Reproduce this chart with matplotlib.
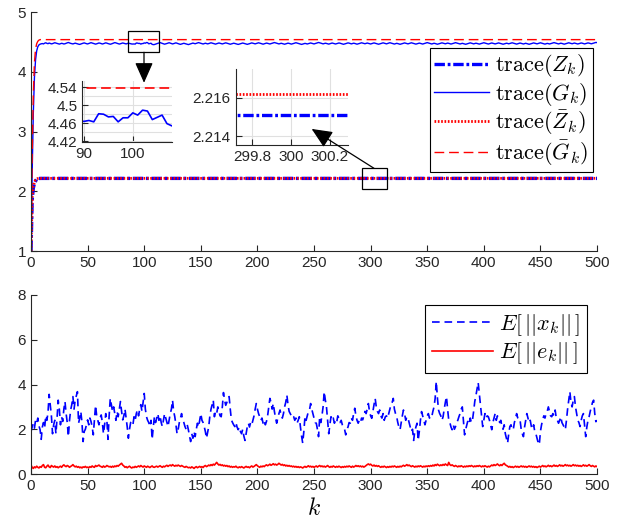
import matplotlib
matplotlib.use("Agg")
import matplotlib.pyplot as plt
import numpy as np
from matplotlib.patches import Rectangle, ConnectionPatch
from matplotlib.ticker import MultipleLocator

plt.rcParams["font.family"] = ["Liberation Sans", "DejaVu Sans"]
plt.rcParams["mathtext.fontset"] = "cm"
plt.rcParams["lines.scale_dashes"] = False

# ---------------- data ----------------
k = np.arange(0, 501)

# transient part, then steady value
z_head = [1.0, 1.85, 2.05, 2.13, 2.17, 2.20, 2.21, 2.214]
z_steady = 2.2151
zbar_head = [1.0, 1.90, 2.08, 2.15, 2.19, 2.205, 2.213, 2.2155]
zbar_steady = 2.2162
gbar_head = [1.0, 2.6, 3.6, 4.15, 4.38, 4.47, 4.51, 4.53]
gbar_steady = 4.538

trace_Z = z_head + [z_steady] * (501 - len(z_head))
trace_Zbar = zbar_head + [zbar_steady] * (501 - len(zbar_head))
trace_Gbar = gbar_head + [gbar_steady] * (501 - len(gbar_head))

trace_G = [
    1.000, 2.300, 3.300, 3.900, 4.200, 4.350, 4.420, 4.450, 4.462, 4.468,
    4.472, 4.466, 4.478, 4.485, 4.476, 4.470, 4.481, 4.474, 4.467, 4.471,
    4.479, 4.486, 4.480, 4.473, 4.468, 4.463, 4.470, 4.476, 4.472, 4.465,
    4.469, 4.477, 4.484, 4.490, 4.482, 4.475, 4.471, 4.466, 4.473, 4.479,
    4.474, 4.468, 4.462, 4.458, 4.465, 4.472, 4.478, 4.483, 4.476, 4.470,
    4.466, 4.473, 4.480, 4.487, 4.481, 4.474, 4.469, 4.463, 4.468, 4.475,
    4.482, 4.478, 4.471, 4.465, 4.470, 4.477, 4.484, 4.479, 4.472, 4.467,
    4.461, 4.466, 4.474, 4.481, 4.488, 4.483, 4.476, 4.470, 4.464, 4.469,
    4.476, 4.482, 4.477, 4.471, 4.466, 4.472, 4.479, 4.474, 4.468, 4.465,
    4.464, 4.466, 4.463, 4.481, 4.480, 4.474, 4.475, 4.463, 4.472, 4.472,
    4.483, 4.478, 4.489, 4.487, 4.468, 4.473, 4.478, 4.459, 4.454, 4.456,
    4.463, 4.470, 4.476, 4.482, 4.488, 4.481, 4.474, 4.468, 4.462, 4.467,
    4.473, 4.480, 4.486, 4.479, 4.473, 4.466, 4.471, 4.478, 4.484, 4.477,
    4.470, 4.464, 4.459, 4.465, 4.471, 4.477, 4.472, 4.466, 4.460, 4.455,
    4.461, 4.468, 4.474, 4.480, 4.475, 4.469, 4.475, 4.482, 4.488, 4.482,
    4.476, 4.470, 4.465, 4.471, 4.478, 4.473, 4.467, 4.472, 4.479, 4.485,
    4.480, 4.474, 4.468, 4.463, 4.469, 4.476, 4.482, 4.477, 4.471, 4.466,
    4.472, 4.478, 4.484, 4.479, 4.473, 4.467, 4.461, 4.466, 4.472, 4.478,
    4.474, 4.468, 4.463, 4.458, 4.463, 4.469, 4.475, 4.481, 4.476, 4.470,
    4.465, 4.459, 4.464, 4.470, 4.477, 4.483, 4.478, 4.472, 4.467, 4.473,
    4.479, 4.485, 4.480, 4.474, 4.468, 4.462, 4.468, 4.474, 4.480, 4.476,
    4.470, 4.465, 4.471, 4.477, 4.483, 4.489, 4.484, 4.478, 4.472, 4.466,
    4.471, 4.477, 4.472, 4.466, 4.461, 4.467, 4.473, 4.479, 4.475, 4.469,
    4.463, 4.468, 4.474, 4.480, 4.486, 4.481, 4.475, 4.469, 4.464, 4.458,
    4.463, 4.469, 4.475, 4.471, 4.465, 4.470, 4.476, 4.482, 4.477, 4.471,
    4.466, 4.472, 4.478, 4.484, 4.490, 4.485, 4.479, 4.473, 4.467, 4.472,
    4.478, 4.474, 4.468, 4.463, 4.469, 4.475, 4.481, 4.476, 4.470, 4.465,
    4.470, 4.476, 4.482, 4.478, 4.472, 4.466, 4.460, 4.465, 4.471, 4.477,
    4.483, 4.479, 4.473, 4.467, 4.472, 4.478, 4.474, 4.468, 4.462, 4.467,
    4.473, 4.479, 4.485, 4.480, 4.474, 4.469, 4.475, 4.481, 4.476, 4.470,
    4.465, 4.471, 4.477, 4.483, 4.478, 4.472, 4.466, 4.461, 4.466, 4.472,
    4.478, 4.484, 4.479, 4.473, 4.467, 4.473, 4.479, 4.486, 4.481, 4.475,
    4.469, 4.464, 4.470, 4.476, 4.472, 4.466, 4.460, 4.465, 4.471, 4.477,
    4.483, 4.478, 4.472, 4.467, 4.473, 4.479, 4.485, 4.480, 4.474, 4.468,
    4.463, 4.468, 4.474, 4.480, 4.475, 4.469, 4.464, 4.470, 4.476, 4.482,
    4.488, 4.482, 4.476, 4.470, 4.465, 4.471, 4.477, 4.473, 4.467, 4.461,
    4.466, 4.472, 4.478, 4.484, 4.479, 4.473, 4.468, 4.474, 4.480, 4.476,
    4.470, 4.464, 4.469, 4.475, 4.481, 4.487, 4.482, 4.476, 4.470, 4.465,
    4.470, 4.476, 4.471, 4.465, 4.460, 4.466, 4.472, 4.478, 4.484, 4.479,
    4.473, 4.467, 4.472, 4.478, 4.474, 4.468, 4.463, 4.469, 4.475, 4.481,
    4.486, 4.481, 4.475, 4.469, 4.464, 4.470, 4.476, 4.482, 4.477, 4.471,
    4.466, 4.471, 4.477, 4.483, 4.478, 4.472, 4.467, 4.461, 4.466, 4.472,
    4.478, 4.474, 4.468, 4.473, 4.479, 4.485, 4.480, 4.474, 4.468, 4.463,
    4.469, 4.475, 4.481, 4.476, 4.470, 4.465, 4.471, 4.477, 4.472, 4.466,
    4.460, 4.465, 4.471, 4.477, 4.483, 4.478, 4.472, 4.467, 4.473, 4.479,
    4.485, 4.480, 4.474, 4.468, 4.463, 4.469, 4.475, 4.471, 4.465, 4.470,
    4.476, 4.482, 4.488, 4.483, 4.477, 4.471, 4.466, 4.472, 4.478, 4.474,
    4.468, 4.462, 4.467, 4.473, 4.479, 4.485, 4.480, 4.474, 4.469, 4.475,
    4.481, 4.476, 4.470, 4.465, 4.470, 4.476, 4.482, 4.478, 4.472, 4.466,
    4.471, 4.477, 4.483, 4.479, 4.473, 4.468, 4.474, 4.480, 4.486, 4.491,
    4.488,
]

E_x = [
    1.90, 2.10, 2.25, 2.05, 2.40, 2.27, 2.50, 2.15, 1.98, 1.55,
    2.10, 2.30, 2.05, 2.60, 2.40, 2.75, 3.56, 3.07, 2.60, 1.80,
    2.20, 2.40, 1.80, 2.50, 3.30, 2.90, 2.20, 2.56, 2.35, 2.90,
    3.24, 2.70, 2.30, 1.67, 2.40, 2.86, 3.10, 3.46, 2.90, 3.30,
    3.50, 3.68, 2.27, 2.50, 2.79, 2.30, 1.45, 1.90, 2.00, 2.20,
    2.42, 2.20, 2.50, 2.35, 2.10, 1.75, 2.40, 3.07, 2.60, 2.40,
    2.20, 2.50, 2.64, 2.30, 1.80, 2.20, 2.70, 2.40, 1.55, 2.60,
    3.38, 3.10, 2.80, 3.00, 2.70, 2.40, 2.80, 2.56, 2.90, 3.24,
    2.80, 2.42, 2.60, 2.90, 2.50, 2.10, 1.60, 2.00, 2.30, 2.34,
    2.20, 2.56, 2.40, 2.70, 2.86, 2.60, 2.90, 3.10, 2.80, 3.20,
    3.60, 2.90, 2.56, 2.40, 2.30, 2.12, 2.40, 1.55, 2.10, 2.56,
    2.30, 2.50, 2.70, 2.40, 2.60, 2.30, 2.12, 2.40, 2.70, 2.50,
    2.30, 2.12, 2.40, 2.70, 2.90, 3.30, 2.80, 2.56, 2.20, 1.80,
    2.00, 2.30, 2.50, 2.70, 2.40, 2.30, 2.12, 2.00, 2.20, 1.98,
    1.70, 1.45, 1.80, 1.60, 1.90, 1.67, 2.00, 2.27, 2.10, 2.40,
    2.70, 2.40, 2.30, 2.12, 1.90, 1.60, 1.85, 2.12, 2.60, 2.90,
    3.10, 3.30, 2.56, 2.80, 2.70, 3.00, 2.80, 2.60, 2.56, 3.00,
    3.64, 3.30, 3.07, 3.20, 3.40, 3.46, 2.90, 2.42, 2.30, 2.20,
    2.12, 2.30, 2.10, 1.98, 2.10, 1.90, 1.80, 2.00, 1.70, 1.50,
    1.80, 2.10, 2.27, 2.10, 2.30, 2.20, 2.40, 2.60, 2.90, 3.15,
    2.90, 2.70, 2.56, 2.40, 2.50, 2.27, 2.40, 2.20, 2.35, 2.60,
    3.00, 3.38, 3.20, 2.90, 3.15, 2.80, 2.50, 2.27, 2.50, 2.70,
    2.86, 2.60, 2.50, 2.70, 3.00, 3.20, 3.53, 3.10, 2.80, 2.70,
    2.60, 2.50, 2.56, 2.40, 2.50, 2.27, 2.40, 2.56, 2.10, 1.70,
    1.38, 1.90, 2.56, 2.40, 2.60, 2.79, 2.86, 3.15, 2.90, 2.70,
    2.50, 2.30, 2.27, 2.00, 1.67, 2.56, 2.30, 2.60, 3.00, 3.68,
    3.30, 3.00, 2.40, 1.80, 2.20, 2.56, 2.40, 2.50, 2.27, 2.40,
    2.30, 2.60, 2.49, 2.30, 2.40, 2.20, 2.12, 2.00, 1.75, 2.00,
    2.10, 2.30, 2.27, 2.50, 2.40, 2.70, 2.94, 2.60, 2.40, 2.27,
    2.40, 2.30, 2.50, 2.42, 2.60, 2.80, 2.70, 2.90, 3.15, 2.80,
    2.60, 2.49, 2.80, 3.10, 3.38, 3.00, 2.80, 2.70, 2.86, 2.60,
    2.50, 2.70, 2.40, 2.56, 2.60, 2.50, 2.70, 2.90, 3.10, 3.20,
    3.38, 2.90, 2.70, 2.56, 2.30, 2.10, 1.98, 2.30, 2.60, 2.86,
    2.70, 2.40, 2.56, 2.50, 2.30, 2.12, 1.90, 2.00, 1.50, 1.90,
    2.10, 2.27, 1.50, 1.90, 2.40, 2.79, 2.60, 2.40, 2.20, 2.40,
    2.60, 2.70, 2.50, 2.60, 2.56, 2.80, 3.00, 3.38, 4.14, 3.40,
    2.86, 2.70, 2.60, 2.40, 2.56, 2.90, 3.20, 3.46, 2.90, 2.42,
    2.30, 2.10, 1.98, 2.20, 2.00, 2.12, 2.30, 2.40, 2.56, 2.70,
    2.90, 3.00, 2.40, 1.75, 2.00, 2.20, 2.40, 2.27, 2.50, 2.30,
    2.42, 2.80, 3.24, 3.50, 3.80, 4.09, 3.60, 3.15, 2.60, 2.12,
    2.40, 2.70, 2.50, 2.60, 2.56, 2.40, 2.20, 1.98, 2.30, 2.50,
    2.70, 2.40, 2.60, 2.49, 2.30, 2.40, 2.12, 2.00, 2.20, 1.80,
    1.60, 1.38, 1.80, 2.12, 2.20, 2.00, 1.98, 2.30, 2.50, 2.70,
    2.50, 2.40, 2.42, 2.00, 1.80, 1.67, 2.10, 2.40, 2.70, 2.50,
    2.30, 2.40, 2.12, 2.00, 2.20, 1.90, 1.80, 1.60, 1.40, 1.31,
    1.90, 2.20, 2.42, 2.60, 2.50, 2.70, 2.80, 3.00, 2.80, 2.60,
    2.56, 2.70, 2.60, 2.86, 2.50, 2.40, 2.27, 2.40, 2.56, 2.30,
    2.20, 2.10, 1.98, 2.40, 2.90, 3.30, 3.68, 3.20, 3.00, 3.30,
    3.46, 3.00, 2.70, 2.40, 2.30, 2.12, 2.40, 2.60, 2.70, 2.20,
    1.67, 2.10, 2.40, 2.56, 2.80, 3.00, 3.20, 3.30, 2.70, 2.34,
    2.40,
]

E_e = [
    0.40, 0.30, 0.25, 0.32, 0.28, 0.35, 0.30, 0.27, 0.33, 0.30,
    0.38, 0.42, 0.30, 0.28, 0.35, 0.40, 0.32, 0.29, 0.38, 0.34,
    0.31, 0.36, 0.30, 0.33, 0.28, 0.32, 0.35, 0.30, 0.37, 0.41,
    0.36, 0.33, 0.38, 0.35, 0.30, 0.34, 0.37, 0.42, 0.36, 0.32,
    0.35, 0.30, 0.33, 0.28, 0.31, 0.27, 0.32, 0.30, 0.34, 0.29,
    0.31, 0.28, 0.33, 0.30, 0.36, 0.32, 0.30, 0.38, 0.34, 0.37,
    0.40, 0.35, 0.33, 0.30, 0.36, 0.31, 0.33, 0.38, 0.35, 0.32,
    0.34, 0.30, 0.35, 0.31, 0.36, 0.33, 0.38, 0.35, 0.40, 0.44,
    0.48, 0.40, 0.36, 0.30, 0.33, 0.28, 0.32, 0.35, 0.30, 0.27,
    0.31, 0.29, 0.34, 0.30, 0.33, 0.36, 0.32, 0.38, 0.34, 0.31,
    0.36, 0.33, 0.30, 0.35, 0.32, 0.29, 0.33, 0.36, 0.31, 0.30,
    0.33, 0.35, 0.31, 0.34, 0.37, 0.33, 0.30, 0.35, 0.32, 0.36,
    0.39, 0.34, 0.38, 0.40, 0.36, 0.42, 0.38, 0.35, 0.39, 0.36,
    0.40, 0.37, 0.34, 0.38, 0.35, 0.32, 0.30, 0.34, 0.31, 0.28,
    0.30, 0.27, 0.32, 0.29, 0.25, 0.30, 0.33, 0.28, 0.31, 0.34,
    0.30, 0.33, 0.29, 0.35, 0.38, 0.33, 0.36, 0.40, 0.37, 0.42,
    0.38, 0.44, 0.40, 0.46, 0.52, 0.45, 0.40, 0.43, 0.38, 0.41,
    0.36, 0.39, 0.35, 0.38, 0.33, 0.36, 0.31, 0.34, 0.30, 0.33,
    0.31, 0.35, 0.30, 0.28, 0.32, 0.29, 0.33, 0.30, 0.27, 0.31,
    0.34, 0.30, 0.32, 0.28, 0.33, 0.36, 0.31, 0.34, 0.38, 0.42,
    0.37, 0.33, 0.30, 0.35, 0.32, 0.36, 0.33, 0.38, 0.41, 0.37,
    0.40, 0.44, 0.39, 0.42, 0.46, 0.41, 0.44, 0.40, 0.43, 0.48,
    0.44, 0.40, 0.43, 0.38, 0.41, 0.36, 0.39, 0.35, 0.38, 0.34,
    0.36, 0.32, 0.35, 0.31, 0.34, 0.30, 0.33, 0.29, 0.32, 0.30,
    0.27, 0.31, 0.34, 0.30, 0.33, 0.37, 0.32, 0.35, 0.31, 0.34,
    0.30, 0.33, 0.36, 0.31, 0.35, 0.38, 0.33, 0.36, 0.32, 0.35,
    0.31, 0.34, 0.38, 0.33, 0.30, 0.34, 0.31, 0.36, 0.33, 0.30,
    0.34, 0.31, 0.35, 0.32, 0.29, 0.33, 0.30, 0.34, 0.31, 0.35,
    0.32, 0.36, 0.33, 0.30, 0.35, 0.31, 0.34, 0.38, 0.34, 0.37,
    0.33, 0.36, 0.32, 0.35, 0.31, 0.34, 0.38, 0.42, 0.45, 0.41,
    0.44, 0.39, 0.36, 0.40, 0.35, 0.38, 0.34, 0.37, 0.33, 0.30,
    0.34, 0.31, 0.35, 0.32, 0.29, 0.33, 0.30, 0.34, 0.31, 0.35,
    0.32, 0.36, 0.33, 0.30, 0.34, 0.31, 0.35, 0.32, 0.36, 0.39,
    0.35, 0.38, 0.42, 0.37, 0.40, 0.36, 0.33, 0.37, 0.34, 0.31,
    0.35, 0.32, 0.36, 0.33, 0.37, 0.34, 0.31, 0.35, 0.32, 0.36,
    0.33, 0.37, 0.34, 0.38, 0.35, 0.40, 0.36, 0.42, 0.38, 0.44,
    0.40, 0.37, 0.41, 0.38, 0.43, 0.39, 0.45, 0.41, 0.38, 0.52,
    0.42, 0.38, 0.41, 0.37, 0.34, 0.38, 0.35, 0.32, 0.36, 0.33,
    0.37, 0.34, 0.31, 0.35, 0.32, 0.36, 0.33, 0.37, 0.34, 0.38,
    0.35, 0.32, 0.36, 0.33, 0.37, 0.34, 0.38, 0.35, 0.32, 0.36,
    0.33, 0.37, 0.34, 0.31, 0.35, 0.32, 0.36, 0.40, 0.37, 0.42,
    0.38, 0.41, 0.45, 0.40, 0.37, 0.42, 0.38, 0.44, 0.48, 0.41,
    0.38, 0.35, 0.31, 0.34, 0.30, 0.33, 0.29, 0.32, 0.35, 0.31,
    0.34, 0.30, 0.33, 0.36, 0.32, 0.35, 0.31, 0.34, 0.30, 0.33,
    0.36, 0.32, 0.35, 0.31, 0.34, 0.30, 0.33, 0.29, 0.32, 0.35,
    0.31, 0.34, 0.38, 0.33, 0.36, 0.32, 0.35, 0.39, 0.34, 0.37,
    0.33, 0.36, 0.40, 0.35, 0.38, 0.34, 0.37, 0.41, 0.36, 0.39,
    0.35, 0.38, 0.42, 0.37, 0.40, 0.36, 0.39, 0.35, 0.38, 0.42,
    0.37, 0.40, 0.36, 0.39, 0.35, 0.38, 0.34, 0.37, 0.41, 0.36,
    0.39, 0.35, 0.38, 0.42, 0.37, 0.34, 0.38, 0.35, 0.32, 0.36,
    0.33,
]

x_ticks = [0, 50, 100, 150, 200, 250, 300, 350, 400, 450, 500]

# ---------------- styles ----------------
AX_COL = "#262626"
BLUE = "#0000ff"
RED = "#ff0000"
DASHDOT = (0, (7.5, 2.0, 2.0, 2.0))
DOTTED = (0, (1.2, 1.2))
DASHED = (0, (7.0, 3.5))
DASHED_B = (0, (5.5, 3.5))


def style_axes(a, size=11):
    a.spines["top"].set_visible(False)
    a.spines["right"].set_visible(False)
    for s in ("left", "bottom"):
        a.spines[s].set_color(AX_COL)
        a.spines[s].set_linewidth(0.8)
    a.tick_params(direction="in", length=4, width=0.8, colors=AX_COL,
                  labelsize=size, labelcolor=AX_COL)


fig = plt.figure(figsize=(6.23, 5.25), dpi=100)

# ---------------- top ----------------
ax = fig.add_axes([0.0498, 0.5219, 0.9085, 0.4552])
ax.plot(k, trace_Z, color=BLUE, lw=2.4, ls=DASHDOT, label=r"$\mathrm{trace}(Z_k)$")
ax.plot(k, trace_G, color=BLUE, lw=1.0, label=r"$\mathrm{trace}(G_k)$")
ax.plot(k, trace_Zbar, color=RED, lw=2.0, ls=DOTTED, label=r"$\mathrm{trace}(\bar{Z}_k)$")
ax.plot(k, trace_Gbar, color=RED, lw=1.0, ls=DASHED, label=r"$\mathrm{trace}(\bar{G}_k)$")
ax.set_xlim(0, 500)
ax.set_ylim(1, 5)
ax.set_xticks(x_ticks)
ax.set_yticks([1, 2, 3, 4, 5])
style_axes(ax)
leg = ax.legend(loc="upper right", bbox_to_anchor=(0.9518, 0.9086),
                bbox_transform=fig.transFigure, borderaxespad=0, fontsize=16,
                handlelength=2.45, fancybox=False, framealpha=1, edgecolor="black",
                borderpad=0.2, labelspacing=0.05, handletextpad=0.3)
leg.get_frame().set_linewidth(0.8)

# zoom boxes on main axes
ax.add_patch(Rectangle((86, 4.326), 27, 0.361, fill=False, ec="black", lw=0.9, zorder=5))
ax.add_patch(Rectangle((292, 2.033), 22.6, 0.351, fill=False, ec="black", lw=0.9, zorder=5))

# inset 1 : G around k=100
ins1 = fig.add_axes([0.1321, 0.7295, 0.1445, 0.1162])
ins1.plot(k, trace_G, color=BLUE, lw=1.2)
ins1.plot(k, trace_Gbar, color=RED, lw=1.2, ls=DASHED)
ins1.set_xlim(89.65, 108.1)
ins1.set_ylim(4.418, 4.554)
ins1.set_xticks([90, 100])
ins1.set_yticks([4.42, 4.46, 4.50, 4.54])
ins1.set_yticklabels(["4.42", "4.46", "4.5", "4.54"])
ins1.yaxis.set_minor_locator(MultipleLocator(0.02))
ins1.grid(True, which="both", color="#e0e0e0", lw=0.8)
ins1.tick_params(which="minor", length=0)
style_axes(ins1)

# inset 2 : Z around k=300
ins2 = fig.add_axes([0.3783, 0.7238, 0.1807, 0.1448])
ins2.plot(k, trace_Z, color=BLUE, lw=2.4, ls=DASHDOT)
ins2.plot(k, trace_Zbar, color=RED, lw=2.0, ls=DOTTED)
ins2.set_xlim(299.716, 300.294)
ins2.set_ylim(2.21353, 2.2175)
ins2.set_xticks([299.8, 300, 300.2])
ins2.set_xticklabels(["299.8", "300", "300.2"])
ins2.set_yticks([2.214, 2.216])
ins2.grid(True, color="#e0e0e0", lw=0.8)
style_axes(ins2)

arrow_kw = dict(arrowstyle="-|>,head_length=0.9,head_width=0.4", mutation_scale=14,
                color="black", lw=0.9, shrinkA=0, shrinkB=0)
fig.add_artist(ConnectionPatch(xyA=(99.8, 4.326), coordsA=ax.transData,
                               xyB=(102.3, 4.550), coordsB=ins1.transData, **arrow_kw))
fig.add_artist(ConnectionPatch(xyA=(303.0, 2.384), coordsA=ax.transData,
                               xyB=(300.106, 2.21437), coordsB=ins2.transData, **arrow_kw))

# ---------------- bottom ----------------
bx = fig.add_axes([0.0498, 0.0971, 0.9085, 0.3410])
bx.plot(k, E_x, color=BLUE, lw=1.2, ls=DASHED_B, label=r"$E\left[\,||x_k||\,\right]$")
bx.plot(k, E_e, color=RED, lw=1.2, label=r"$E\left[\,||e_k||\,\right]$")
bx.set_xlim(0, 500)
bx.set_ylim(0, 8)
bx.set_xticks(x_ticks)
bx.set_yticks([0, 2, 4, 6, 8])
style_axes(bx)
bx.set_xlabel(r"$k$", fontsize=17, labelpad=4)
leg2 = bx.legend(loc="upper right", bbox_to_anchor=(0.9422, 0.419),
                 bbox_transform=fig.transFigure, borderaxespad=0, fontsize=16,
                 handlelength=2.75, fancybox=False, framealpha=1, edgecolor="black",
                 borderpad=0.3, labelspacing=0.12, handletextpad=0.3)
leg2.get_frame().set_linewidth(0.8)

fig.savefig("out.png", dpi=100)
